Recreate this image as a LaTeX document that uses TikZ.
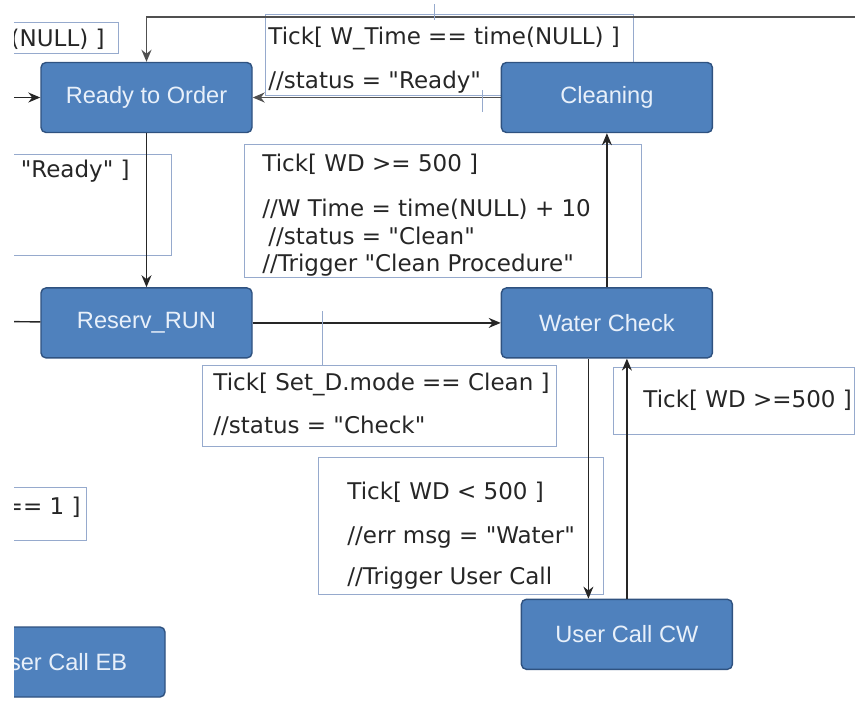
\documentclass[tikz,border=0pt]{standalone}
\usepackage{fontspec}
\setmainfont{Liberation Sans}
\newfontfamily\guardfont{DejaVu Sans}
\usetikzlibrary{positioning, arrows.meta}
\definecolor{stateblue}{RGB}{79,129,189}
\definecolor{stateedge}{RGB}{47,82,128}
\definecolor{statetext}{RGB}{232,240,250}
\definecolor{guardedge}{RGB}{150,170,205}
\definecolor{flowgray}{RGB}{80,80,80}
\tikzset{
        >={Stealth[length=6pt,width=5pt]}, % solid arrow heads
        x=0.5pt, y=-0.5pt, % one unit is one pixel of the drawing, y runs down
        block/.style={rectangle, rounded corners=2.5pt, draw=stateedge, line width=0.7pt,
          fill=stateblue, text=statetext, font=\fontsize{11.8}{14}\selectfont,
          minimum width=105.5pt, minimum height=35pt}, % the states
        guardbox/.style={draw=guardedge, line width=0.5pt, inner sep=0pt, anchor=north west}, % frame of a transition label
        guard/.style={font=\guardfont\fontsize{11.5}{13.5}\selectfont, text=black!85,
          inner sep=0pt, align=left}, % text of a transition label
        flow/.style={->, line width=0.7pt, black!85}, % transitions
        leader/.style={guardedge, line width=0.5pt}, % label to transition
    }
\begin{document}
\begin{tikzpicture}
    \useasboundingbox (0,0) rectangle (855,708);
    \clip (14,0) rectangle (855,708);
    % label frames
    \node[guardbox, minimum width=184pt, minimum height=40.5pt] (g1) at (265,14) {};
    \node[guardbox, minimum width=54pt, minimum height=15.5pt] (g2) at (10,22) {};
    \node[guardbox, minimum width=80.5pt, minimum height=50.5pt] (g3) at (10,154) {};
    \node[guardbox, minimum width=198.5pt, minimum height=66.5pt] (g4) at (244,144) {};
    \node[guardbox, minimum width=177pt, minimum height=40.5pt] (g5) at (202,365) {};
    \node[guardbox, minimum width=142.5pt, minimum height=68.5pt] (g6) at (318,457) {};
    \node[guardbox, minimum width=120.5pt, minimum height=33.5pt] (g7) at (613,367) {};
    \node[guardbox, minimum width=38pt, minimum height=26.5pt] (g8) at (10,487) {};
    % label texts
    \node[guard, anchor=north west] (t1) at (268,27) {Tick[ W\_Time == time(NULL) ]\\[8.5pt]//status = "Ready"};
    \node[guard, anchor=east] (t2) at (105,39) {(NULL) ]};
    \node[guard, anchor=east] (t3) at (130,171) {"Ready" ]};
    \node[guard, anchor=north west] (t4) at (262,153.5) {Tick[ WD >= 500 ]\\[9pt]//W Time = time(NULL) + 10\\[0.5pt]\hspace{3pt}//status = "Clean"\\//Trigger "Clean Procedure"};
    \node[guard, anchor=north west] (t5) at (213,373) {Tick[ Set\_D.mode == Clean ]\\[8pt]//status = "Check"};
    \node[guard, anchor=north west] (t6) at (347,482) {Tick[ WD < 500 ]\\[8.5pt]//err msg = "Water"\\[7pt]//Trigger User Call};
    \node[guard, anchor=west] (t7) at (643,400) {Tick[ WD >=500 ]};
    \node[guard, anchor=east] (t8) at (81,507) {== 1 ]};
    % states
    \node[block] (ready) at (146.5,97.5) {Ready to Order};
    \node[block, right=124pt of ready] (cleaning) {Cleaning};
    \node[block, below=77pt of ready] (reserv) {Reserv\_RUN};
    \node[block, right=124pt of reserv] (water) {Water Check};
    \node[block, below=120pt of water, xshift=10pt] (usercw) {User Call CW};
    \node[block] (usereb) at (59.5,662) {User Call EB};
    % transitions
    \coordinate (topright) at (870,17);
    \coordinate (leftin) at (0,97.5);
    \coordinate (leftout) at (0,321.5);
    \draw[flow, flowgray, line width=0.9pt] (topright) -| (ready);
    \draw[flow] (leftin) -- (ready);
    \draw[flow, flowgray, line width=0.9pt] (cleaning) -- (ready);
    \draw[flow] (ready) -- (reserv);
    \draw[flow] (reserv) -- (leftout);
    \draw[flow] (reserv) -- (water);
    \draw[flow] (water) -- (cleaning);
    \draw[flow] ([xshift=-9.25pt]water.south) -- ([xshift=-19.25pt]usercw.north);
    \draw[flow] (usercw.north) -- (usercw.north |- water.south);
    % leaders
    \coordinate (k1) at (434,4);
    \coordinate (k2) at (482,90);
    \coordinate (k5) at (322,311);
    \draw[leader] (k1) -- ++(0,16);
    \draw[leader] (k2) -- ++(0,22);
    \draw[leader] (k5) -- (k5 |- g5.north);
\end{tikzpicture}
\end{document}
